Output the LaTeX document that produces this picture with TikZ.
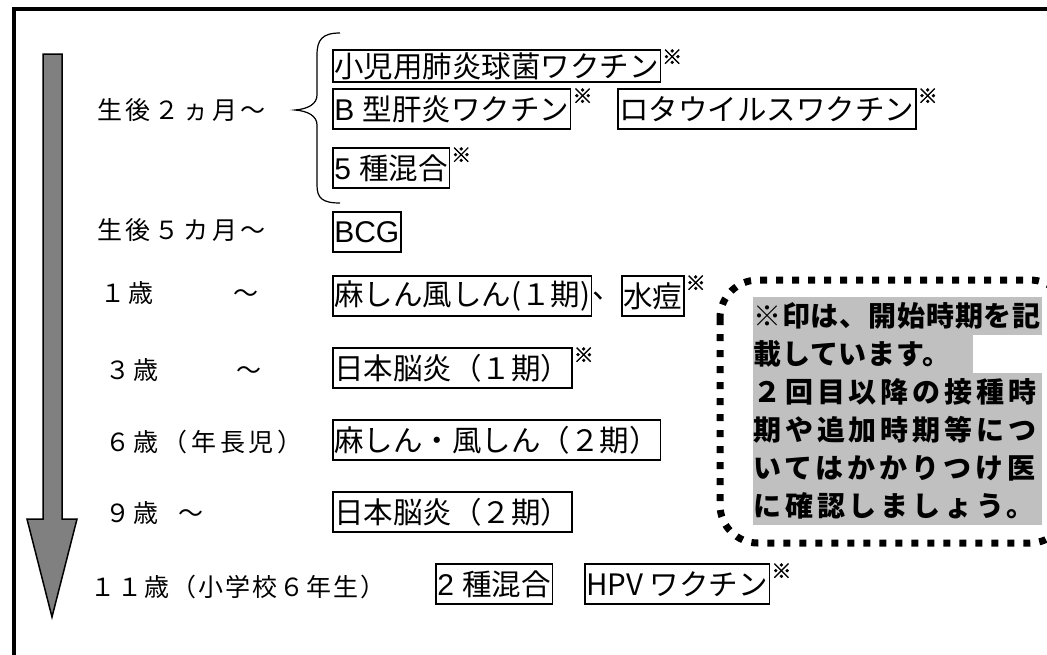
\documentclass[tikz,border=0pt]{standalone}
\usepackage{fontspec}
\newfontfamily\jpfont{Noto Sans CJK JP}
\newfontfamily\jpwide[LetterSpace=15]{Noto Sans CJK JP}
\newfontfamily\komefont[FakeBold=2]{Noto Sans CJK JP}
\newfontfamily\notefont[LetterSpace=3]{Noto Sans CJK JP}
\newfontfamily\notewide[LetterSpace=14]{Noto Sans CJK JP}
\newfontfamily\latinfont{Liberation Sans}
\newcommand\lat[1]{{\latinfont\fontsize{30}{30}\selectfont #1}}
\definecolor{arrowgray}{HTML}{808080}
\definecolor{notegray}{HTML}{C0C0C0}
\begin{document}
\begin{tikzpicture}[x=1pt,y=-1pt]
  \tikzstyle{age}=[anchor=west,inner sep=0pt,font=\jpwide\fontsize{25}{25}\selectfont]
  \tikzstyle{vaccine}=[draw,line width=1.5pt,anchor=west,inner xsep=1.5pt,inner ysep=0pt,minimum height=40pt,font=\jpfont\fontsize{29.5}{29.5}\selectfont]
  \tikzstyle{kome}=[anchor=north west,inner sep=0pt,font=\komefont\fontsize{20}{20}\selectfont]
  \tikzstyle{noteline}=[anchor=north west,fill=notegray,inner sep=0pt,minimum height=38pt,align=left,font=\notefont\bfseries\fontsize{28}{28}\selectfont]
  \useasboundingbox (0,0) rectangle (1047,654);
  \clip (0,0) rectangle (1047,654);
  % frame
  \draw[line width=3.5pt] (14,9) rectangle (1060,670);
  % time arrow
  \draw[fill=arrowgray,line width=1.5pt,line join=miter] (43,54) -- (62,54) -- (62,519) -- (77,519)
    -- (52,617) -- (27,519) -- (43,519) -- cycle;
  % ages
  \node[age] (age2m)  at (97,110)  {生後２ヵ月～};
  \node[age] (age5m)  at (97,230)  {生後５カ月～};
  \node[age] (age1)   at (100,293) {１歳\hspace{80pt}～};
  \node[age] (age3)   at (105,370) {３歳\hspace{78pt}～};
  \node[age] (age6)   at (105,442) {６歳（年長児）};
  \node[age] (age9)   at (105,513) {９歳\hspace{20pt}～};
  \node[age,font=\jpwide\fontsize{25}{25}\selectfont\addfontfeature{LetterSpace=8}] (age11) at (90,587) {１１歳（小学校６年生）};
  % brace
  \draw[line width=1.2pt] (340,33) .. controls (322,33) and (317,40) .. (317,55) -- (317,95)
    .. controls (317,104) and (308,109) .. (295,110) .. controls (308,111) and (317,116) .. (317,125)
    -- (317,185) .. controls (317,198) and (322,203) .. (340,203);
  % vaccines
  \node[vaccine,minimum height=32pt] (pcv) at (332,66) {小児用肺炎球菌ワクチン};
  \node[vaccine] (hepb)  at (332,109) {\lat{B }型肝炎ワクチン};
  \node[vaccine] (rota)  at (617,109) {ロタウイルスワクチン};
  \node[vaccine] (five)  at (332,168) {\lat{5 }種混合};
  \node[vaccine] (bcg)   at (332,232) {\lat{BCG}};
  \node[vaccine] (mr1)   at (332,296) {麻しん風しん(１期)};
  \node[anchor=west,inner sep=0pt,font=\jpfont\fontsize{29.5}{29.5}\selectfont] (comma) at (mr1.east) {、};
  \node[vaccine] (var)   at (621,296) {水痘};
  \node[vaccine] (je1)   at (332,368) {日本脳炎（１期）};
  \node[vaccine] (mr2)   at (332,440) {麻しん・風しん（２期）};
  \node[vaccine] (je2)   at (332,512) {日本脳炎（２期）};
  \node[vaccine] (two)   at (435,584) {\lat{2 }種混合};
  \node[vaccine] (hpv)   at (584,584) {HPV ワクチン};
  \node[kome] (pcvmark)  at ([xshift=1pt]pcv.north east)  {※};
  \node[kome] (hepbmark) at ([xshift=1pt]hepb.north east) {※};
  \node[kome] (rotamark) at ([xshift=1pt]rota.north east) {※};
  \node[kome] (fivemark) at ([xshift=1pt]five.north east) {※};
  \node[kome] (varmark)  at ([xshift=1pt]var.north east)  {※};
  \node[kome] (je1mark)  at ([xshift=1pt]je1.north east)  {※};
  \node[kome] (hpvmark)  at ([xshift=1pt]hpv.north east)  {※};
  % note
  \node[noteline,text width=289pt] (note1) at (753,297) {※印は、開始時期を記};
  \node[noteline,text width=220pt] (note2) at (753,335) {載しています。};
  \node[noteline,text width=289pt,font=\notewide\bfseries\fontsize{28}{28}\selectfont] (note3) at (753,373) {２回目以降の接種時};
  \node[noteline,text width=289pt,font=\notewide\bfseries\fontsize{28}{28}\selectfont] (note4) at (753,411) {期や追加時期等につ};
  \node[noteline,text width=289pt,font=\notewide\bfseries\fontsize{28}{28}\selectfont] (note5) at (753,449) {いてはかかりつけ医};
  \node[noteline,text width=289pt,font=\notewide\bfseries\fontsize{28}{28}\selectfont] (note6) at (753,487) {に確認しましょう。};
  \draw[line width=7pt,dash pattern=on 7pt off 9pt,rounded corners=38pt] (720,280) rectangle (1068,543);
\end{tikzpicture}
\end{document}
